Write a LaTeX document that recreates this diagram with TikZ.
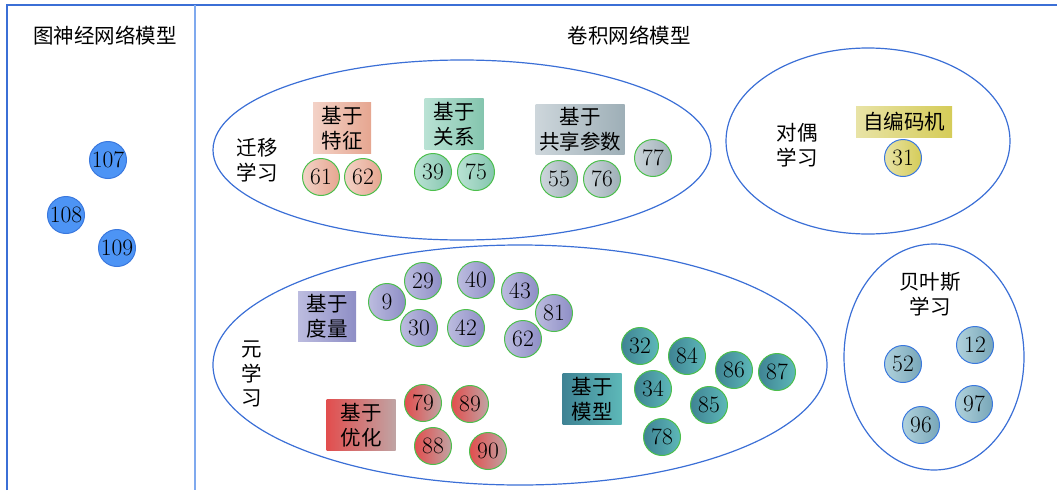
\documentclass[tikz,border=0pt]{standalone}
\usepackage{fontspec}
\newfontfamily\cjk{Noto Sans CJK SC}
\definecolor{eblue}{HTML}{3B6FD6}
\definecolor{lblue}{HTML}{7FA9EE}
\definecolor{cgreen}{HTML}{4CBF4C}
\definecolor{cblue}{HTML}{3A78DE}
\definecolor{gnnfill}{HTML}{4D94F5}
\tikzset{
  ell/.style={draw=eblue, line width=1.2pt},
  num/.style={circle, minimum size=37pt, inner sep=0pt, line width=1pt,
    font=\fontsize{23.5}{23.5}\selectfont},
  gnum/.style={num, draw=cgreen},
  bnum/.style={num, draw=cblue},
  lab/.style={font=\cjk\fontsize{20.5}{24.5}\selectfont, align=center, inner sep=0pt},
  catbox/.style={lab, inner sep=0pt},
  feat/.style={left color=feA, right color=feB},
  rel/.style={left color=reA, right color=reB},
  shr/.style={left color=shA, right color=shB},
  auto/.style={left color=auA, right color=auB},
  met/.style={left color=meA, right color=meB},
  opt/.style={left color=opA, right color=opB},
  mod/.style={left color=moA, right color=moB},
  bay/.style={left color=baA, right color=baB},
}
\definecolor{feA}{HTML}{F3D2C7}\definecolor{feB}{HTML}{E6A690}
\definecolor{reA}{HTML}{B9E2D4}\definecolor{reB}{HTML}{84C5AE}
\definecolor{shA}{HTML}{CDD6DB}\definecolor{shB}{HTML}{9EAFB7}
\definecolor{auA}{HTML}{E8E3A6}\definecolor{auB}{HTML}{D5CC58}
\definecolor{meA}{HTML}{BCBCDF}\definecolor{meB}{HTML}{8E8EC6}
\definecolor{opA}{HTML}{E24E4E}\definecolor{opB}{HTML}{C0A4A4}
\definecolor{moA}{HTML}{3F8394}\definecolor{moB}{HTML}{5DB8B8}
\definecolor{baA}{HTML}{B0D2DC}\definecolor{baB}{HTML}{78A6B8}
\begin{document}
\begin{tikzpicture}[x=1pt,y=-1pt]
\useasboundingbox (0,0) rectangle (1057,490);
% frame
\coordinate (tl) at (7,5);
\coordinate (tr) at (1057,5);
\coordinate (bl) at (7,490);
\coordinate (dt) at (195,5);
\coordinate (db) at (195,490);
\draw[eblue, line width=1.2pt] (bl) -- (tl) -- (tr);
\draw[lblue, line width=1.2pt] (dt) -- (db);

% headers
\node[lab] (gnn) at (105,36) {图神经网络模型};
\node[lab] (cnn) at (629,36) {卷积网络模型};

% GNN circles
\node[num, fill=gnnfill, draw=cblue] (n107) at (108,160) {107};
\node[num, fill=gnnfill, draw=cblue] (n108) at (66,215) {108};
\node[num, fill=gnnfill, draw=cblue] (n109) at (117,248) {109};

% ellipses
\draw[ell] (462,150) ellipse [x radius=249, y radius=90];
\draw[ell] (868,141) ellipse [x radius=142, y radius=93];
\draw[ell] (520,365) ellipse [x radius=307, y radius=120];
\draw[ell] (934,357) ellipse [x radius=90, y radius=113];

% transfer learning
\node[lab] (tl1) at (257,160) {迁移\\学习};
\node[catbox, feat, minimum width=58pt, minimum height=51pt] (cf) at (342,128) {基于\\特征};
\node[gnum, feat] (n61) at (321,177) {61};
\node[gnum, feat] (n62) at (363,177) {62};
\node[catbox, rel, minimum width=59pt, minimum height=51pt] (cr) at (454,124) {基于\\关系};
\node[gnum, rel] (n39) at (433,172) {39};
\node[gnum, rel] (n75) at (476,172) {75};
\node[catbox, shr, minimum width=89pt, minimum height=50pt] (cs) at (580,129) {基于\\共享参数};
\node[gnum, shr] (n55) at (559,179) {55};
\node[gnum, shr] (n76) at (602,179) {76};
\node[gnum, shr] (n77) at (653,158) {77};

% dual learning
\node[lab] (dl) at (797,145) {对偶\\学习};
\node[catbox, auto, minimum width=96pt, minimum height=31pt] (ca) at (904,122) {自编码机};
\node[bnum, auto] (n31) at (903,158) {31};

% meta learning
\node[lab] (ml) at (252,374) {元\\学\\习};
\node[catbox, met, minimum width=58pt, minimum height=50pt] (cm) at (327,316) {基于\\度量};
\node[gnum, met] (n9) at (387,302) {9};
\node[gnum, met] (n29) at (423,281) {29};
\node[gnum, met] (n40) at (476,280) {40};
\node[gnum, met] (n43) at (520,291) {43};
\node[gnum, met] (n81) at (554,313) {81};
\node[gnum, met] (n30) at (419,328) {30};
\node[gnum, met] (n42) at (466,328) {42};
\node[gnum, met] (n62b) at (523,339) {62};

\node[catbox, opt, minimum width=69pt, minimum height=51pt] (co) at (361,425) {基于\\优化};
\node[gnum, opt] (n79) at (423,403) {79};
\node[gnum, opt] (n89) at (470,404) {89};
\node[gnum, opt] (n88) at (433,446) {88};
\node[gnum, opt] (n90) at (488,451) {90};

\node[catbox, mod, minimum width=59pt, minimum height=51pt] (cmo) at (592,399) {基于\\模型};
\node[gnum, mod] (n32) at (640,346) {32};
\node[gnum, mod] (n84) at (687,356) {84};
\node[gnum, mod] (n86) at (734,370) {86};
\node[gnum, mod] (n87) at (777,372) {87};
\node[gnum, mod] (n34) at (653,389) {34};
\node[gnum, mod] (n85) at (709,405) {85};
\node[gnum, mod] (n78) at (662,437) {78};

% bayesian
\node[lab] (bl) at (930,294) {贝叶斯\\学习};
\node[bnum, bay] (n52) at (903,364) {52};
\node[bnum, bay] (n12) at (975,345) {12};
\node[bnum, bay] (n97) at (974,404) {97};
\node[bnum, bay] (n96) at (921,425) {96};
\end{tikzpicture}
\end{document}
